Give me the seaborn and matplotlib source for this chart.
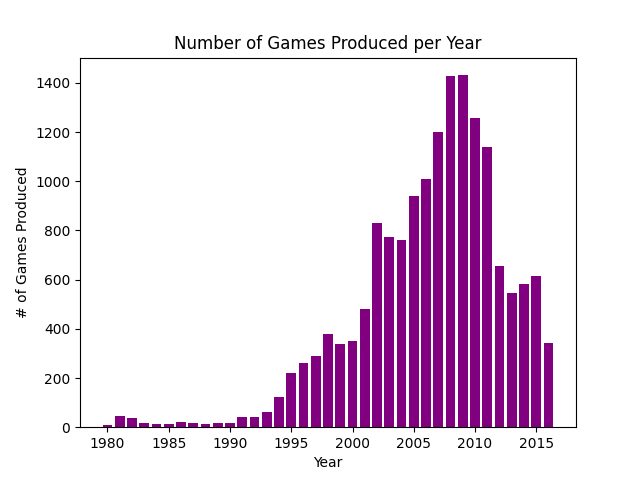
import matplotlib
matplotlib.use("Agg")
import matplotlib.pyplot as plt
import seaborn as sns
import pandas as pd

years = list(range(1980, 2017))
counts = [9, 46, 36, 17, 14, 14, 21, 16, 15, 17, 16, 41, 43, 60, 121, 219, 263,
          289, 379, 338, 349, 482, 829, 775, 763, 941, 1008, 1202, 1428, 1431,
          1259, 1139, 657, 546, 582, 614, 344]

df = pd.DataFrame({"Year": years, "Count": counts})

fig, ax = plt.subplots(figsize=(6.4, 4.8), dpi=100)
sns.barplot(data=df, x="Year", y="Count", native_scale=True, color="purple",
            saturation=1, width=0.8, ax=ax)
ax.set_xlim(1977.76, 2018.24)
ax.set_ylim(0, 1503)
ax.set_title("Number of Games Produced per Year")
ax.set_xlabel("Year")
ax.set_ylabel("# of Games Produced")
fig.savefig("out.png")
